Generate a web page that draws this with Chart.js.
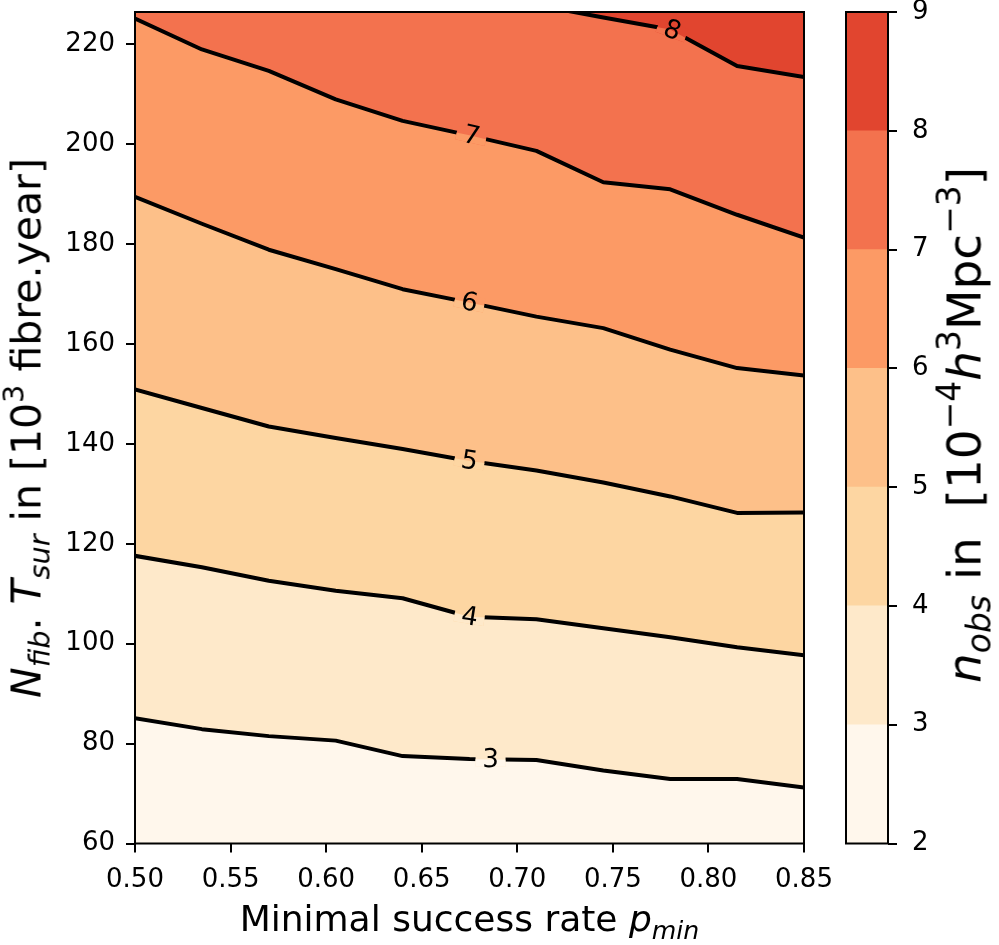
<!DOCTYPE html>
<html><head><meta charset="utf-8">
<script src="https://cdn.jsdelivr.net/npm/chart.js@4.4.0/dist/chart.umd.min.js"></script>
<style>
html,body{margin:0;padding:0;background:#fff;}
#wrap{position:relative;width:999px;height:945px;overflow:hidden;font-family:"DejaVu Sans",sans-serif;color:#000;}
canvas{position:absolute;top:0;}
.lbl{position:absolute;white-space:nowrap;line-height:1;}
.it{font-style:italic;}
.sub{font-size:0.7em;position:relative;top:0.3em;}
.sup{font-size:0.7em;position:relative;top:-0.6em;}
</style></head>
<body><div id="wrap">
<canvas id="main" style="left:0;width:999px;height:945px"></canvas>
<canvas id="cbar" style="left:830px;width:169px;height:945px"></canvas>
<div class="lbl" style="font-size:36px;left:469.5px;top:901px;transform:translateX(-50%)">Minimal success rate <span class="it">p</span><span class="sub it">min</span></div>
<div class="lbl" style="font-size:41px;left:27px;top:427.7px;transform:translate(-50%,-50%) rotate(-90deg)"><span class="it">N</span><span class="sub it">fib</span>. <span class="it">T</span><span class="sub it">sur</span> in [10<span class="sup">3</span> fibre.year]</div>
<div class="lbl" style="font-size:47px;left:964px;top:425px;transform:translate(-50%,-50%) rotate(-90deg)"><span class="it">n</span><span class="sub it">obs</span> in&nbsp; [10<span class="sup">&minus;4</span><span class="it">h</span><span class="sup">3</span>Mpc<span class="sup">&minus;3</span>]</div>
</div>
<script>
// ---- data ----
const xVals = [0.5, 0.535, 0.57, 0.605, 0.64, 0.675, 0.71, 0.745, 0.78, 0.815, 0.85];
const level3 = [85.1, 82.9, 81.5, 80.6, 77.5, 76.9, 76.7, 74.6, 72.9, 72.9, 71.2];
const level4 = [117.6, 115.3, 112.6, 110.6, 109.1, 105.4, 104.9, 103.1, 101.3, 99.3, 97.7];
const level5 = [150.9, 147.2, 143.5, 141.2, 139.0, 136.6, 134.7, 132.3, 129.5, 126.2, 126.3];
const level6 = [189.5, 184.1, 178.9, 175.0, 171.0, 168.3, 165.5, 163.2, 158.9, 155.2, 153.7];
const level7 = [225.2, 219.0, 214.7, 209.0, 204.7, 201.8, 198.7, 192.4, 191.0, 185.9, 181.3];
const level8X = [0.71, 0.745, 0.78, 0.815, 0.85];
const level8 = [227.9, 225.4, 223.0, 215.7, 213.5];
const levels = [2, 3, 4, 5, 6, 7, 8, 9];
const bandColors = ['#fff7ec', '#fee9ca', '#fdd6a2', '#fdc089', '#fc9a65', '#f3724e', '#e1452f'];
const xTicks = [0.50, 0.55, 0.60, 0.65, 0.70, 0.75, 0.80, 0.85];
const yTicks = [60, 80, 100, 120, 140, 160, 180, 200, 220];
const labelLevels = [3, 4, 5, 6, 7, 8];
const labelX = [0.686, 0.675, 0.675, 0.675, 0.676, 0.781];
const X_MIN = 0.5, X_MAX = 0.85, Y_MIN = 60, Y_MAX = 226.5;

const pts = (xs, ys) => xs.map((x, i) => ({x: x, y: ys[i]}));
const FONT = {family: 'DejaVu Sans', size: 26};
const LW = 4;

function contour(ys, xs, fill, color) {
  return {data: pts(xs, ys), borderColor: '#000', borderWidth: LW, backgroundColor: color,
          fill: fill, pointRadius: 0, tension: 0, borderJoinStyle: 'round', clip: 0};
}
const datasets = [
  contour(level8, level8X, 'end', bandColors[6]),
  contour(level3, xVals, 'start', bandColors[0]),
  contour(level4, xVals, '-1', bandColors[1]),
  contour(level5, xVals, '-1', bandColors[2]),
  contour(level6, xVals, '-1', bandColors[3]),
  contour(level7, xVals, '-1', bandColors[4]),
  Object.assign(contour(level7, xVals, 'end', bandColors[5]), {borderWidth: 0, borderColor: 'rgba(0,0,0,0)'})
];
const levelDataset = {3: 1, 4: 2, 5: 3, 6: 4, 7: 5, 8: 0};

const framePlugin = {
  id: 'frame',
  afterDraw(chart) {
    const a = chart.chartArea, c = chart.ctx;
    c.save(); c.strokeStyle = '#000'; c.lineWidth = 2;
    c.strokeRect(a.left, a.top, a.right - a.left, a.bottom - a.top);
    c.restore();
  }
};

function lineY(data, x) {
  let j = 0;
  while (j < data.length - 2 && data[j + 1].x < x) j++;
  const p0 = data[j], p1 = data[j + 1];
  return p0.y + (x - p0.x) / (p1.x - p0.x) * (p1.y - p0.y);
}

const labelPlugin = {
  id: 'clabels',
  afterDatasetsDraw(chart) {
    const c = chart.ctx, a = chart.chartArea;
    const xs = chart.scales.x, ys = chart.scales.y;
    c.save();
    c.beginPath(); c.rect(a.left, a.top, a.right - a.left, a.bottom - a.top); c.clip();
    labelLevels.forEach((lev, k) => {
      const di = levelDataset[lev];
      const data = chart.data.datasets[di].data;
      const lx = labelX[k];
      const ly = lineY(data, lx);
      const px = xs.getPixelForValue(lx), py = ys.getPixelForValue(ly);
      const d = 0.012;
      const ang = Math.atan2(ys.getPixelForValue(lineY(data, lx + d)) - ys.getPixelForValue(lineY(data, lx - d)),
                             xs.getPixelForValue(lx + d) - xs.getPixelForValue(lx - d));
      const pix = chart.getDatasetMeta(di).data.map(e => ({x: e.x, y: e.y}));
      c.save();
      c.translate(px, py); c.rotate(ang);
      c.beginPath(); c.rect(-15, -7, 30, 14); c.clip();
      c.rotate(-ang); c.translate(-px, -py);
      c.fillStyle = bandColors[lev - 2];
      c.fillRect(px - 30, py - 30, 60, 60);
      c.beginPath();
      c.moveTo(pix[0].x, pix[0].y);
      pix.forEach(p => c.lineTo(p.x, p.y));
      c.lineTo(pix[pix.length - 1].x, a.bottom + 50);
      c.lineTo(pix[0].x, a.bottom + 50);
      c.closePath();
      c.fillStyle = bandColors[lev - 3];
      c.fill();
      c.restore();
      c.save();
      c.translate(px, py); c.rotate(ang);
      c.font = '26px "DejaVu Sans"';
      c.fillStyle = '#000'; c.textAlign = 'center'; c.textBaseline = 'middle';
      c.fillText(String(lev), 0, 1);
      c.restore();
    });
    c.restore();
  }
};

new Chart(document.getElementById('main'), {
  type: 'line',
  data: {datasets: datasets},
  options: {
    responsive: false, animation: false,
    layout: {padding: {top: 12, right: 195, left: 0, bottom: 0}},
    plugins: {legend: {display: false}, tooltip: {enabled: false},
              filler: {drawTime: 'beforeDatasetsDraw', propagate: false}},
    scales: {
      x: {type: 'linear', min: X_MIN, max: X_MAX,
          afterBuildTicks: s => { s.ticks = xTicks.map(v => ({value: v})); },
          afterFit: s => { s.height = 101.5; s.paddingLeft = 0; s.paddingRight = 0; },
          ticks: {font: FONT, color: '#000', padding: 12, maxRotation: 0, autoSkip: false,
                  callback: v => Number(v).toFixed(2)},
          grid: {drawOnChartArea: false, drawTicks: true, tickLength: 9, color: '#000', lineWidth: 2},
          border: {display: false}},
      y: {type: 'linear', min: Y_MIN, max: Y_MAX,
          afterBuildTicks: s => { s.ticks = yTicks.map(v => ({value: v})); },
          afterFit: s => { s.width = 135; s.paddingTop = 0; s.paddingBottom = 0; },
          ticks: {font: FONT, color: '#000', padding: 11, autoSkip: false},
          grid: {drawOnChartArea: false, drawTicks: true, tickLength: 9, color: '#000', lineWidth: 2},
          border: {display: false}}
    }
  },
  plugins: [labelPlugin, framePlugin]
});

const cbDatasets = bandColors.map((col, i) => ({
  data: [[levels[i], levels[i + 1]]], backgroundColor: col, borderWidth: 0,
  barPercentage: 1, categoryPercentage: 1, grouped: false
}));
new Chart(document.getElementById('cbar'), {
  type: 'bar',
  data: {labels: [''], datasets: cbDatasets},
  options: {
    responsive: false, animation: false,
    layout: {padding: {top: 12, left: 16, right: 0, bottom: 101.5}},
    plugins: {legend: {display: false}, tooltip: {enabled: false}},
    scales: {
      x: {display: false},
      y: {position: 'right', min: levels[0], max: levels[levels.length - 1],
          afterBuildTicks: s => { s.ticks = levels.map(v => ({value: v})); },
          afterFit: s => { s.width = 111; s.paddingTop = 0; s.paddingBottom = 0; },
          ticks: {font: FONT, color: '#000', padding: 15},
          grid: {drawOnChartArea: false, drawTicks: true, tickLength: 9, color: '#000', lineWidth: 2},
          border: {display: false}}
    }
  },
  plugins: [framePlugin]
});
</script>
</body></html>
